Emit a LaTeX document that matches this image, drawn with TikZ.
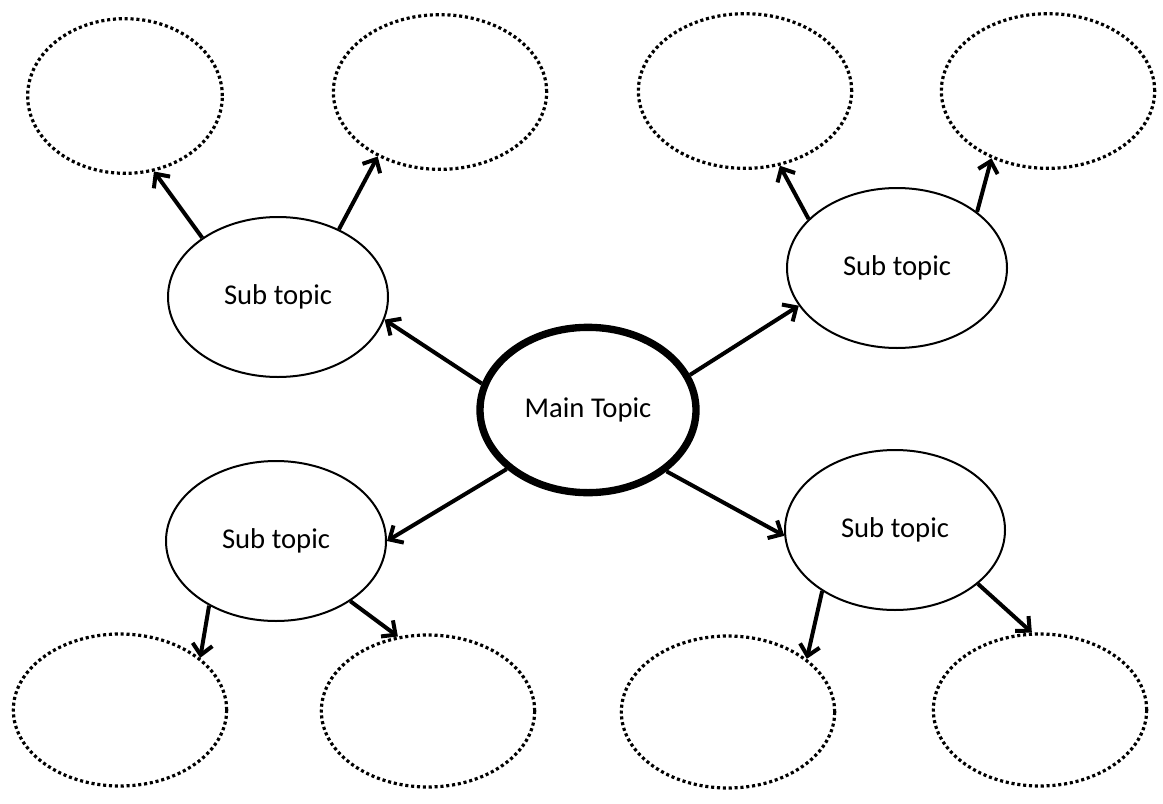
\documentclass[tikz,border=0pt]{standalone}
\usepackage{fontspec}
\setmainfont{Carlito}
\usetikzlibrary{shapes.geometric,arrows.meta}
\begin{document}
\begin{tikzpicture}[x=0.75pt,y=-0.75pt,
  mainbox/.style={ellipse,draw,line width=5.5pt,minimum width=162pt,minimum height=124pt,inner sep=0pt,font=\fontsize{21.5}{24}\selectfont},
  subbox/.style={ellipse,draw,line width=1.5pt,minimum width=165pt,minimum height=120pt,inner sep=0pt,font=\fontsize{21.5}{24}\selectfont},
  leafbox/.style={ellipse,draw,line width=2.4pt,dash pattern=on 2.3pt off 2.1pt,minimum width=160pt,minimum height=114pt,inner sep=0pt},
  conn/.style={line width=3pt,-{Straight Barb[length=8pt,width=15pt,line width=3pt]}}
]
\useasboundingbox (0,0) rectangle (1163,803);
\node[mainbox] (main) at (588,410) {Main Topic};
\node[subbox] (tl) at (278,297) {Sub topic};
\node[subbox] (tr) at (897,268) {Sub topic};
\node[subbox] (bl) at (276,541) {Sub topic};
\node[subbox] (br) at (895,530) {Sub topic};
\node[leafbox,minimum width=146pt,minimum height=116pt] (tl1) at (125,96) {};
\node[leafbox,minimum height=116pt] (tl2) at (440,92) {};
\node[leafbox,minimum height=116pt] (tr1) at (745,91) {};
\node[leafbox,minimum height=116pt] (tr2) at (1048,91) {};
\node[leafbox] (bl1) at (120,710) {};
\node[leafbox] (bl2) at (428,711) {};
\node[leafbox] (br1) at (728,712) {};
\node[leafbox] (br2) at (1040,710) {};
\draw[conn] (main.166) -- (tl.348);
\draw[conn] (main.19) -- (tr.201);
\draw[conn] (main.216) -- (bl.0);
\draw[conn] (main.322) -- (br.183);
\draw[conn] (tl.142) -- (tl1.291);
\draw[conn] (tl.48) -- (tl2.226);
\draw[conn] (tr.151) -- (tr1.295);
\draw[conn] (tr.35) -- (tr2.230);
\draw[conn] (bl.224) -- (bl1.33);
\draw[conn] (bl.321) -- (bl2.112);
\draw[conn] (br.220) -- (br1.34);
\draw[conn] (br.327) -- (br2.96);
\end{tikzpicture}
\end{document}
